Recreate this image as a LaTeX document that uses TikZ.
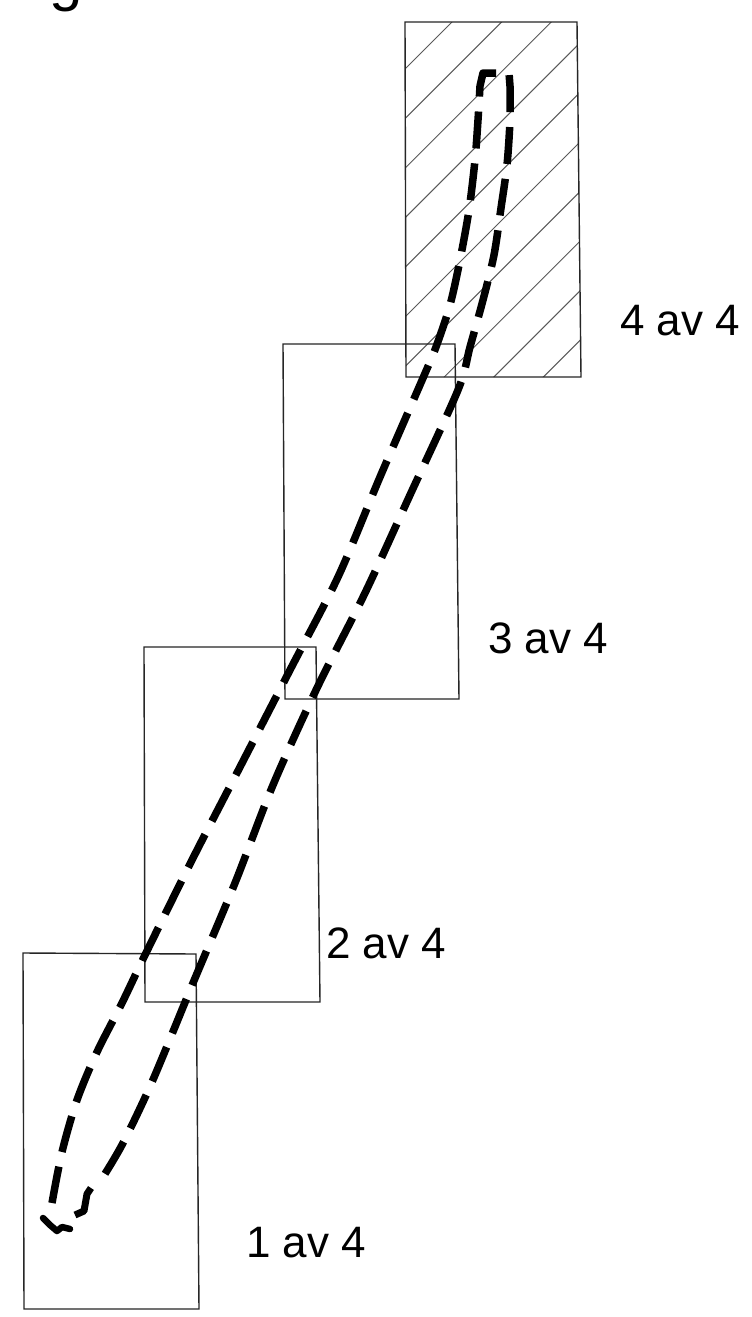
\documentclass[tikz,border=0pt]{standalone}
\usepackage{fontspec}
\setmainfont{Liberation Sans}
\begin{document}
\begin{tikzpicture}[x=1pt,y=-1pt,
  frame/.style={draw=black!85, line width=1.4pt},
  hatchline/.style={draw=black!65, line width=1pt},
  route/.style={line width=7.5pt, dash pattern=on 37pt off 15pt, line join=round},
  solidbit/.style={line width=7pt, line join=round, line cap=round},
  lbl/.style={font=\fontsize{44}{44}\selectfont, anchor=base west, inner sep=0pt}]
\useasboundingbox (0,0) rectangle (752,1317);
\fill[white] (0,0) rectangle (752,1317);
% partial heading glyph at the top edge
\node[anchor=base west, inner sep=0pt, font=\fontsize{60}{60}\selectfont] (g) at (49,0) {g};
% hatching of box 4
\begin{scope}
  \clip (405,22) -- (577,22) -- (581,377) -- (406,377) -- cycle;
  \foreach \k in {0,...,9} {
    \pgfmathsetmacro\cc{474+49.6*\k}
    \draw[hatchline] (\cc-400,400) -- (\cc+50,-50);
  }
\end{scope}
% boxes
\draw[frame] (405,22) -- (577,22) -- (581,377) -- (406,377) -- cycle;
\draw[frame] (283,344) -- (455,344) -- (459,699) -- (285,699) -- cycle;
\draw[frame] (144,647) -- (316,647) -- (320,1002) -- (145,1002) -- cycle;
\draw[frame] (23,953) -- (196,954) -- (199,1309) -- (24,1309) -- cycle;
% dashed route
\draw[route] plot[smooth, tension=0.5] coordinates {(52,1203) (62,1152) (77,1100) (97,1052) (122,1003) (145,955) (192,860) (240,767) (290,670) (338,577) (380,477) (423,378) (436,347) (450,305) (460,260) (469,210) (475,160) (478,120) (480,86)}
  -- (483,73) -- (509,73)
  -- plot[smooth, tension=0.5] coordinates {(510,86) (510,120) (507,165) (501,208) (494,255) (483,300) (470,347) (458,390) (410,495) (365,593) (317,688) (273,785) (235,883) (193,983) (152,1082) (123,1143) (103,1177)};
\draw[solidbit, line cap=butt] (91,1188) -- (87,1194) -- (84,1211) -- (75,1215);
\draw[solidbit, line width=6.5pt] (43,1218) -- (50,1225) -- (57,1231) -- (62,1227) -- (70,1229);
% labels
\node[lbl] (l4) at (620,335) {4 av 4};
\node[lbl] (l3) at (488,653) {3 av 4};
\node[lbl] (l2) at (326,958) {2 av 4};
\node[lbl] (l1) at (246,1257) {1 av 4};
\end{tikzpicture}
\end{document}
